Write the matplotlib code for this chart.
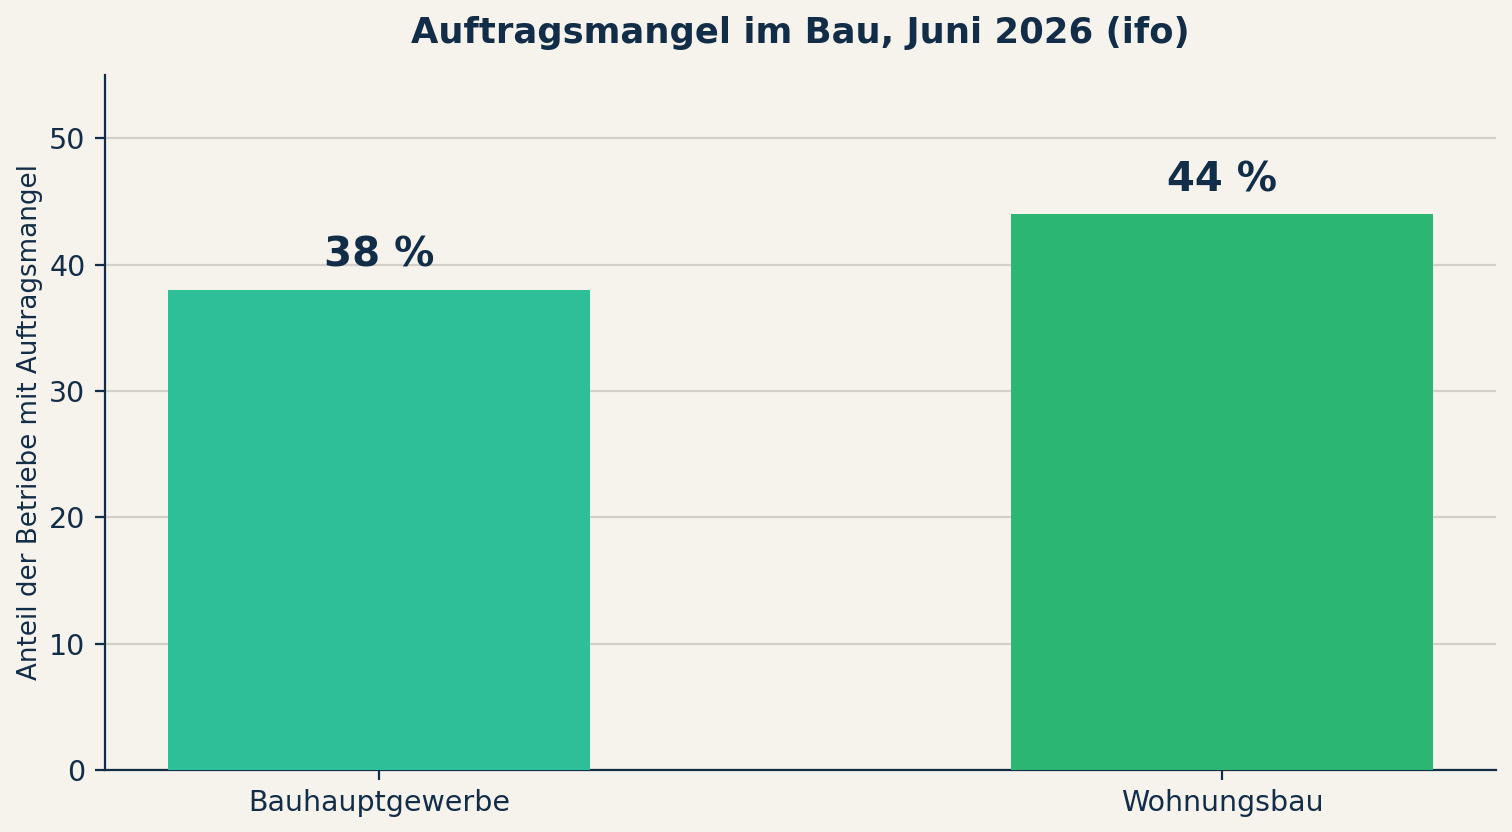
import matplotlib.pyplot as plt

# Data
categories = ["Bauhauptgewerbe", "Wohnungsbau"]
values = [38, 44]
labels = ["38 %", "44 %"]
colors = ["#2ebf99", "#2bb673"]

text_color = "#122d48"
bg = "#f6f2ec"

fig, ax = plt.subplots(figsize=(7.56, 4.16), dpi=200)
fig.patch.set_facecolor(bg)
ax.set_facecolor(bg)
plt.subplots_adjust(left=0.0694, right=0.9894, bottom=0.0745, top=0.9099)

bars = ax.bar(categories, values, width=0.5, color=colors, zorder=3)

for b, lab in zip(bars, labels):
    ax.annotate(lab, (b.get_x() + b.get_width() / 2, b.get_height()),
                xytext=(0, 5), textcoords="offset points",
                ha="center", va="bottom", fontsize=14.5, fontweight="bold",
                color=text_color)

ax.set_ylim(0, 55)
ax.set_yticks([0, 10, 20, 30, 40, 50])
ax.grid(axis="y", color="#d4cfc8", linewidth=0.8, zorder=0)
ax.set_axisbelow(True)

ax.set_title("Auftragsmangel im Bau, Juni 2026 (ifo)", fontsize=12.75,
             fontweight="bold", color=text_color, pad=11.5)
ax.set_ylabel("Anteil der Betriebe mit Auftragsmangel", fontsize=9.4,
              color=text_color, labelpad=2.2)

for s in ["top", "right"]:
    ax.spines[s].set_visible(False)
for s in ["left", "bottom"]:
    ax.spines[s].set_color(text_color)
ax.tick_params(colors=text_color, labelsize=10.25)

plt.savefig("out.png", dpi=200, facecolor=bg)
